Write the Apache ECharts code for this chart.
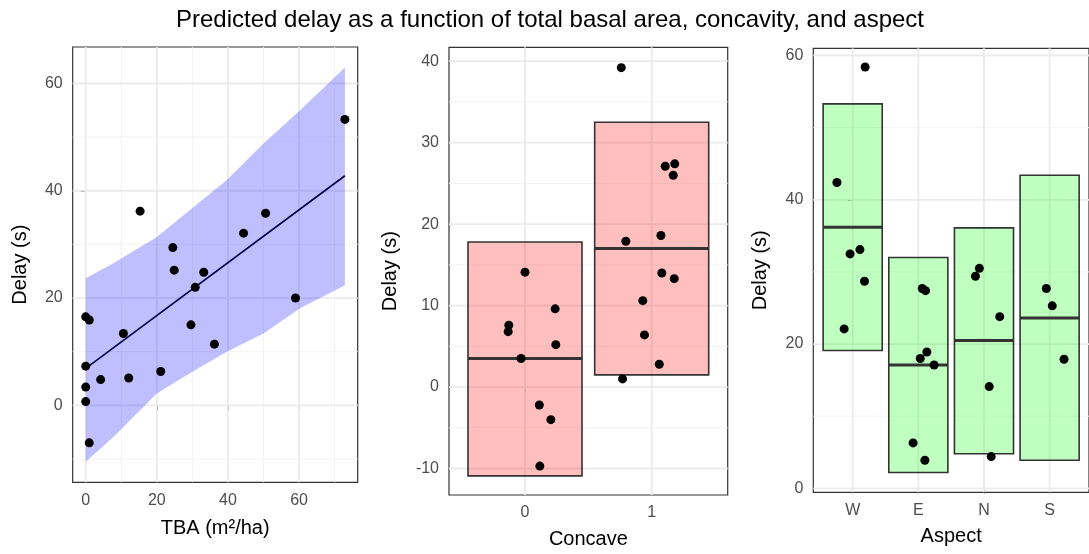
<!DOCTYPE html>
<html>
<head>
<meta charset="utf-8">
<script src="https://cdn.jsdelivr.net/npm/echarts/dist/echarts.min.js"></script>
<style>html,body{margin:0;padding:0;background:#fff}#c{width:1089px;height:554px}</style>
</head>
<body>
<div id="c"></div>
<script>
// ---------- data ----------
const chartTitle = "Predicted delay as a function of total basal area, concavity, and aspect";
const yName = "Delay (s)";

// Panel 1: delay vs total basal area
const tba   = [15.3, 24.5, 24.9, 33.2, 30.8, 44.4, 50.6, 72.9, 0.0, 1.0, 10.6, 29.6, 36.2, 0.0, 4.2, 12.1, 21.1, 0.0, 0.0, 1.0, 59.0];
const tbaDelay = [36.2, 29.4, 25.2, 24.8, 22.0, 32.1, 35.8, 53.3, 16.5, 15.9, 13.4, 15.0, 11.4, 7.3, 4.8, 5.1, 6.3, 3.4, 0.7, -7.0, 20.0];
const ribbonX     = [0, 7.8, 20.0, 29.3, 39.7, 50.0, 60.3, 72.9];
const ribbonLower = [-10.5, -5.9, 2.2, 6.0, 10.0, 13.4, 18.1, 22.4];
const ribbonUpper = [23.7, 26.5, 31.4, 36.4, 42.0, 48.8, 55.0, 63.0];
const fitX = [0, 72.9];
const fitY = [6.9, 42.8];
const p1XTicks = [0, 20, 40, 60];
const p1XMinor = [10, 30, 50, 70];
const p1YTicks = [0, 20, 40, 60];
const p1YMinor = [-10, 10, 30, 50];

// Panel 2: concavity
const concaveCats  = ["0", "1"];
const concaveLower = [-10.9, 1.5];
const concaveMid   = [3.5, 17.0];
const concaveUpper = [17.8, 32.5];
const concaveGroup  = [0, 0, 0, 0, 0, 0, 0, 0, 0, 1, 1, 1, 1, 1, 1, 1, 1, 1, 1, 1, 1];
const concaveJitter = [0.0, 0.238, -0.128, -0.133, 0.243, -0.031, 0.113, 0.204, 0.117,
                       -0.24, 0.107, 0.182, 0.17, 0.073, -0.204, 0.08, 0.178, -0.07, -0.057, 0.06, -0.23];
const concaveDelay  = [14.1, 9.6, 7.6, 6.8, 5.2, 3.5, -2.2, -4.0, -9.7,
                       39.2, 27.1, 27.4, 26.0, 18.6, 17.9, 14.0, 13.3, 10.6, 6.4, 2.8, 1.0];
const p2YTicks = [-10, 0, 10, 20, 30, 40];
const p2YMinor = [-5, 5, 15, 25, 35];

// Panel 3: aspect
const aspectCats  = ["W", "E", "N", "S"];
const aspectLower = [19.1, 2.2, 4.8, 3.9];
const aspectMid   = [36.2, 17.1, 20.5, 23.6];
const aspectUpper = [53.3, 32.0, 36.1, 43.4];
const aspectGroup  = [0, 0, 0, 0, 0, 0, 1, 1, 1, 1, 1, 1, 1, 2, 2, 2, 2, 2, 3, 3, 3];
const aspectJitter = [0.19, -0.24, -0.04, 0.11, 0.18, -0.13,
                      0.06, 0.11, 0.13, 0.03, 0.24, -0.08, 0.1,
                      -0.07, -0.13, 0.24, 0.08, 0.11,
                      -0.05, 0.04, 0.22];
const aspectDelay  = [58.4, 42.4, 32.5, 33.1, 28.7, 22.1,
                      27.7, 27.4, 18.9, 18.0, 17.1, 6.3, 3.9,
                      30.5, 29.4, 23.8, 14.1, 4.4,
                      27.7, 25.3, 17.9];
const p3YTicks = [0, 20, 40, 60];
const p3YMinor = [10, 30, 50];

// ---------- styles ----------
const FONT = "'Liberation Sans', Arial, sans-serif";
const BORDER = '#333333';
const MAJOR = '#EBEBEB';
const MINOR = '#F3F3F3';

const grids = [
  {left: 72.7, top: 47, width: 285, height: 435.3},
  {left: 449, top: 47.3, width: 278.7, height: 450},
  {left: 813.3, top: 48.3, width: 285.1, height: 444}
].map(g => Object.assign({show: true, borderColor: BORDER, borderWidth: 1.2, backgroundColor: '#fff', containLabel: false}, g));

function xAxisCfg(gi, min, max, ticks, name, gap, fmt) {
  return {
    type: 'value', gridIndex: gi, min: min, max: max,
    name: name, nameLocation: 'middle', nameGap: gap,
    nameTextStyle: {fontFamily: FONT, fontSize: 20, color: '#000'},
    axisLine: {show: false},
    axisTick: {show: true, length: 5, customValues: ticks, lineStyle: {color: BORDER, width: 1}},
    axisLabel: {show: true, customValues: ticks, margin: 10, fontFamily: FONT, fontSize: 16, color: '#4D4D4D',
                formatter: fmt || (v => String(v))},
    splitLine: {show: false}
  };
}
function yAxisCfg(gi, min, max, ticks, gap) {
  return {
    type: 'value', gridIndex: gi, min: min, max: max,
    name: yName, nameLocation: 'middle', nameGap: gap,
    nameTextStyle: {fontFamily: FONT, fontSize: 20, color: '#000'},
    axisLine: {show: false},
    axisTick: {show: true, length: 5, customValues: ticks, lineStyle: {color: BORDER, width: 1}},
    axisLabel: {show: true, customValues: ticks, margin: 10, fontFamily: FONT, fontSize: 16, color: '#4D4D4D',
                formatter: v => String(v)},
    splitLine: {show: false}
  };
}

// gridline series (vertical or horizontal)
function gridLines(gi, values, dir, color, width) {
  return {
    type: 'custom', xAxisIndex: gi, yAxisIndex: gi, z: 1, silent: true,
    data: values.map(v => [v]),
    renderItem: function (params, api) {
      const cs = params.coordSys;
      const v = api.value(0);
      let shape;
      if (dir === 'v') {
        const x = api.coord([v, 0])[0];
        shape = {x1: x, y1: cs.y, x2: x, y2: cs.y + cs.height};
      } else {
        const y = api.coord([0, v])[1];
        shape = {x1: cs.x, y1: y, x2: cs.x + cs.width, y2: y};
      }
      return {type: 'line', shape: shape, style: {stroke: color, lineWidth: width}};
    }
  };
}

function crossbars(gi, lo, mid, hi, fill) {
  return {
    type: 'custom', xAxisIndex: gi, yAxisIndex: gi, z: 3, silent: true,
    data: lo.map((l, i) => [i, l, mid[i], hi[i]]),
    renderItem: function (params, api) {
      const c = api.value(0), l = api.value(1), m = api.value(2), h = api.value(3);
      const a = api.coord([c - 0.45, h]), b = api.coord([c + 0.45, l]);
      const m1 = api.coord([c - 0.45, m]), m2 = api.coord([c + 0.45, m]);
      return {type: 'group', children: [
        {type: 'rect', shape: {x: a[0], y: a[1], width: b[0] - a[0], height: b[1] - a[1]},
         style: {fill: fill, stroke: BORDER, lineWidth: 1.6}},
        {type: 'line', shape: {x1: m1[0], y1: m1[1], x2: m2[0], y2: m2[1]},
         style: {stroke: BORDER, lineWidth: 3}}
      ]};
    }
  };
}

function points(gi, data) {
  return {type: 'scatter', xAxisIndex: gi, yAxisIndex: gi, z: 5, symbol: 'circle', symbolSize: 9,
          itemStyle: {color: '#000', opacity: 1}, data: data, silent: true};
}

const series = [
  // panel 1 gridlines
  gridLines(0, p1XMinor, 'v', MINOR, 1), gridLines(0, p1YMinor, 'h', MINOR, 1),
  gridLines(0, p1XTicks, 'v', MAJOR, 1.8), gridLines(0, p1YTicks, 'h', MAJOR, 1.8),
  // panel 2
  gridLines(1, p2YMinor, 'h', MINOR, 1),
  gridLines(1, concaveCats.map((c, i) => i), 'v', MAJOR, 1.8), gridLines(1, p2YTicks, 'h', MAJOR, 1.8),
  // panel 3
  gridLines(2, p3YMinor, 'h', MINOR, 1),
  gridLines(2, aspectCats.map((c, i) => i), 'v', MAJOR, 1.8), gridLines(2, p3YTicks, 'h', MAJOR, 1.8),
  // ribbon
  {
    type: 'custom', xAxisIndex: 0, yAxisIndex: 0, z: 2, silent: true,
    data: [[0]],
    renderItem: function (params, api) {
      const pts = [];
      for (let i = 0; i < ribbonX.length; i++) pts.push(api.coord([ribbonX[i], ribbonUpper[i]]));
      for (let i = ribbonX.length - 1; i >= 0; i--) pts.push(api.coord([ribbonX[i], ribbonLower[i]]));
      return {type: 'polygon', shape: {points: pts}, style: {fill: 'rgba(0,0,255,0.25)'}};
    }
  },
  {
    type: 'line', xAxisIndex: 0, yAxisIndex: 0, z: 4, showSymbol: false, silent: true,
    data: fitX.map((x, i) => [x, fitY[i]]),
    lineStyle: {color: '#00004D', width: 1.6}
  },
  points(0, tba.map((x, i) => [x, tbaDelay[i]])),
  crossbars(1, concaveLower, concaveMid, concaveUpper, 'rgba(255,0,0,0.25)'),
  points(1, concaveGroup.map((g, i) => [g + concaveJitter[i], concaveDelay[i]])),
  crossbars(2, aspectLower, aspectMid, aspectUpper, 'rgba(0,255,0,0.25)'),
  points(2, aspectGroup.map((g, i) => [g + aspectJitter[i], aspectDelay[i]]))
];

const option = {
  animation: false,
  backgroundColor: '#fff',
  title: {text: chartTitle, left: 545, textAlign: 'center', top: 3,
          textStyle: {fontFamily: FONT, fontSize: 24, fontWeight: 'normal', color: '#000'}},
  grid: grids,
  xAxis: [
    xAxisCfg(0, -3.66, 76.5, p1XTicks, 'TBA (m²/ha)', 36),
    xAxisCfg(1, -0.6, 1.6, concaveCats.map((c, i) => i), 'Concave', 34, v => concaveCats[Math.round(v)]),
    xAxisCfg(2, -0.6, 3.6, aspectCats.map((c, i) => i), 'Aspect', 34, v => aspectCats[Math.round(v)])
  ],
  yAxis: [
    yAxisCfg(0, -14.35, 66.8, p1YTicks, 42),
    yAxisCfg(1, -13.25, 41.7, p2YTicks, 49),
    yAxisCfg(2, -0.55, 61.0, p3YTicks, 43)
  ],
  series: series
};

const chart = echarts.init(document.getElementById('c'), null, {renderer: 'canvas'});
chart.setOption(option);
</script>
</body>
</html>
